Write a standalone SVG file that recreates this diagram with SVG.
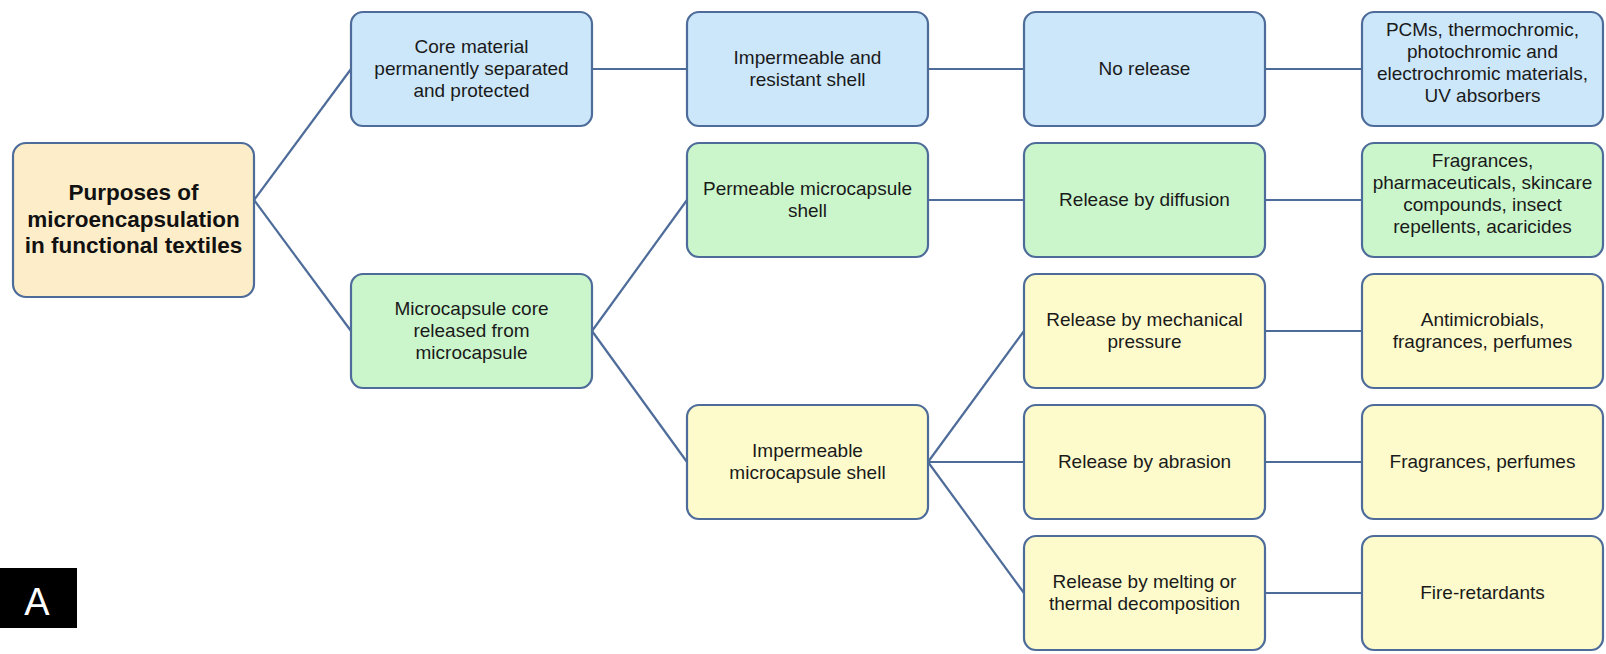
<svg xmlns="http://www.w3.org/2000/svg" width="1606" height="654" viewBox="0 0 1606 654">
<style>
.b{stroke:#4E6C9A;stroke-width:2.2}
.blue{fill:#CCE7FA}
.green{fill:#CBF6CC}
.yellow{fill:#FDFBCC}
.orange{fill:#FDEDC8}
.t{font-family:"Liberation Sans",Arial,sans-serif;font-size:19px;fill:#1a1a1a;text-anchor:middle}
.rt{font-family:"Liberation Sans",Arial,sans-serif;font-size:22.5px;font-weight:bold;fill:#111;text-anchor:middle}
#connectors line{stroke:#4E6C9A;stroke-width:2.2}
</style>
<rect width="1606" height="654" fill="#ffffff"/>
<g id="connectors">
<line x1="254" y1="200" x2="351" y2="69"/>
<line x1="254" y1="200" x2="351" y2="331"/>
<line x1="592" y1="69" x2="687" y2="69"/>
<line x1="928" y1="69" x2="1024" y2="69"/>
<line x1="1265" y1="69" x2="1362" y2="69"/>
<line x1="592" y1="331" x2="687" y2="200"/>
<line x1="592" y1="331" x2="687" y2="462"/>
<line x1="928" y1="200" x2="1024" y2="200"/>
<line x1="1265" y1="200" x2="1362" y2="200"/>
<line x1="928" y1="462" x2="1024" y2="331"/>
<line x1="928" y1="462" x2="1024" y2="462"/>
<line x1="928" y1="462" x2="1024" y2="593"/>
<line x1="1265" y1="331" x2="1362" y2="331"/>
<line x1="1265" y1="462" x2="1362" y2="462"/>
<line x1="1265" y1="593" x2="1362" y2="593"/>
</g>
<g id="root">
<rect class="b orange" x="13" y="143" width="241" height="154" rx="13"/>
<text class="rt" x="133.5" y="200">Purposes of</text>
<text class="rt" x="133.5" y="226.5">microencapsulation</text>
<text class="rt" x="133.5" y="253">in functional textiles</text>
</g>
<g id="core-separated">
<rect class="b blue" x="351" y="12" width="241" height="114" rx="12"/>
<text class="t" x="471.5" y="52.7">Core material</text>
<text class="t" x="471.5" y="75">permanently separated</text>
<text class="t" x="471.5" y="97.3">and protected</text>
</g>
<g id="core-released">
<rect class="b green" x="351" y="274" width="241" height="114" rx="12"/>
<text class="t" x="471.5" y="314.7">Microcapsule core</text>
<text class="t" x="471.5" y="337">released from</text>
<text class="t" x="471.5" y="359.3">microcapsule</text>
</g>
<g id="impermeable-resistant">
<rect class="b blue" x="687" y="12" width="241" height="114" rx="12"/>
<text class="t" x="807.5" y="63.8">Impermeable and</text>
<text class="t" x="807.5" y="86.2">resistant shell</text>
</g>
<g id="permeable-shell">
<rect class="b green" x="687" y="143" width="241" height="114" rx="12"/>
<text class="t" x="807.5" y="194.8">Permeable microcapsule</text>
<text class="t" x="807.5" y="217.2">shell</text>
</g>
<g id="impermeable-shell">
<rect class="b yellow" x="687" y="405" width="241" height="114" rx="12"/>
<text class="t" x="807.5" y="456.8">Impermeable</text>
<text class="t" x="807.5" y="479.2">microcapsule shell</text>
</g>
<g id="no-release">
<rect class="b blue" x="1024" y="12" width="241" height="114" rx="12"/>
<text class="t" x="1144.5" y="75">No release</text>
</g>
<g id="diffusion">
<rect class="b green" x="1024" y="143" width="241" height="114" rx="12"/>
<text class="t" x="1144.5" y="206">Release by diffusion</text>
</g>
<g id="mechanical">
<rect class="b yellow" x="1024" y="274" width="241" height="114" rx="12"/>
<text class="t" x="1144.5" y="325.8">Release by mechanical</text>
<text class="t" x="1144.5" y="348.2">pressure</text>
</g>
<g id="abrasion">
<rect class="b yellow" x="1024" y="405" width="241" height="114" rx="12"/>
<text class="t" x="1144.5" y="468">Release by abrasion</text>
</g>
<g id="melting">
<rect class="b yellow" x="1024" y="536" width="241" height="114" rx="12"/>
<text class="t" x="1144.5" y="587.8">Release by melting or</text>
<text class="t" x="1144.5" y="610.2">thermal decomposition</text>
</g>
<g id="pcms">
<rect class="b blue" x="1362" y="12" width="241" height="114" rx="12"/>
<text class="t" x="1482.5" y="35.5">PCMs, thermochromic,</text>
<text class="t" x="1482.5" y="57.7">photochromic and</text>
<text class="t" x="1482.5" y="79.9">electrochromic materials,</text>
<text class="t" x="1482.5" y="102.1">UV absorbers</text>
</g>
<g id="fragrances-pharma">
<rect class="b green" x="1362" y="143" width="241" height="114" rx="12"/>
<text class="t" x="1482.5" y="166.7">Fragrances,</text>
<text class="t" x="1482.5" y="188.9">pharmaceuticals, skincare</text>
<text class="t" x="1482.5" y="211.1">compounds, insect</text>
<text class="t" x="1482.5" y="233.3">repellents, acaricides</text>
</g>
<g id="antimicrobials">
<rect class="b yellow" x="1362" y="274" width="241" height="114" rx="12"/>
<text class="t" x="1482.5" y="325.8">Antimicrobials,</text>
<text class="t" x="1482.5" y="348.2">fragrances, perfumes</text>
</g>
<g id="fragrances-perfumes">
<rect class="b yellow" x="1362" y="405" width="241" height="114" rx="12"/>
<text class="t" x="1482.5" y="468">Fragrances, perfumes</text>
</g>
<g id="fire-retardants">
<rect class="b yellow" x="1362" y="536" width="241" height="114" rx="12"/>
<text class="t" x="1482.5" y="599">Fire-retardants</text>
</g>
<g id="label-a">
<rect x="0" y="568" width="77" height="60" fill="#000000"/>
<text x="37" y="615" font-family="Liberation Sans, Arial, sans-serif" font-size="38" fill="#ffffff" text-anchor="middle">A</text>
</g>
</svg>
